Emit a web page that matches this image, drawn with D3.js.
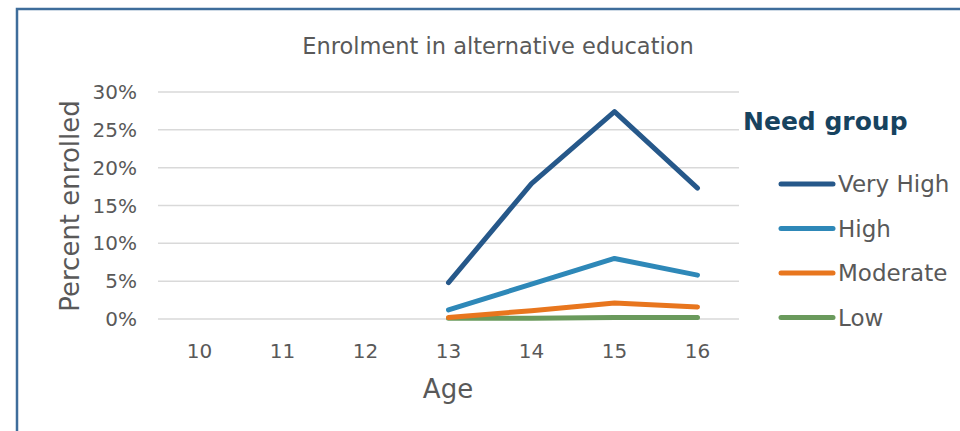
<!DOCTYPE html>
<html>
<head>
<meta charset="utf-8">
<script src="https://cdn.jsdelivr.net/npm/d3@7"></script>
<style>
  body { margin: 0; background: #fff; }
  svg text { font-family: "DejaVu Sans", sans-serif; fill: #595959; }
</style>
</head>
<body>
<svg id="chart" width="960" height="431"></svg>
<script>
"use strict";

// ==========================
// data
// ==========================
var ages = ["10", "11", "12", "13", "14", "15", "16"];
var groups = ["Very High", "High", "Moderate", "Low"];
var colors = ["#26588a", "#2e88b8", "#e8761e", "#6a9a5c"];
// percent enrolled, null = no value
var veryHigh = [null, null, null, 4.8, 17.9, 27.4, 17.3];
var high = [null, null, null, 1.2, 4.6, 8.0, 5.8];
var moderate = [null, null, null, 0.2, 1.1, 2.1, 1.6];
var low = [null, null, null, 0.1, 0.1, 0.2, 0.2];
var yTicks = [0, 5, 10, 15, 20, 25, 30];

var series = [veryHigh, high, moderate, low];

// ==========================
// chart
// ==========================
var svg = d3.select("#chart");

// frame
svg.append("path").attr("d", "M17,431V9H960")
  .attr("fill", "none").attr("stroke", "#3e6d9b").attr("stroke-width", 2.5);

var plotLeft = 158, plotRight = 739, plotTop = 92, plotBottom = 319;

var x = d3.scaleBand().domain(ages).range([plotLeft, plotRight]),
    y = d3.scaleLinear().domain([0, 30]).range([plotBottom, plotTop]);

// gridlines
svg.append("g").selectAll("line").data(yTicks).enter().append("line")
  .attr("x1", plotLeft).attr("x2", plotRight)
  .attr("y1", function (d) { return y(d); }).attr("y2", function (d) { return y(d); })
  .attr("stroke", "#d9d9d9").attr("stroke-width", 1.5);

// y ticks
svg.append("g").selectAll("text").data(yTicks).enter().append("text")
  .attr("x", 137).attr("y", function (d) { return y(d); })
  .attr("dy", "0.35em").attr("text-anchor", "end")
  .style("font-size", "20px")
  .text(function (d) { return d + "%"; });

// x ticks
svg.append("g").selectAll("text").data(ages).enter().append("text")
  .attr("x", function (d) { return x(d) + x.bandwidth() / 2; })
  .attr("y", 358).attr("text-anchor", "middle")
  .style("font-size", "20px")
  .text(function (d) { return d; });

// titles
svg.append("text").attr("x", 498).attr("y", 54).attr("text-anchor", "middle")
  .style("font-size", "22.5px").text("Enrolment in alternative education");
svg.append("text").attr("x", 448).attr("y", 398).attr("text-anchor", "middle")
  .style("font-size", "26px").text("Age");
svg.append("text").attr("transform", "translate(79,206) rotate(-90)")
  .attr("text-anchor", "middle").style("font-size", "26px").text("Percent enrolled");

// lines
var line = d3.line()
  .defined(function (d) { return d != null; })
  .x(function (d, i) { return x(ages[i]) + x.bandwidth() / 2; })
  .y(function (d) { return y(d); });

svg.append("g").selectAll("path").data(series.slice().reverse()).enter().append("path")
  .attr("d", line)
  .attr("fill", "none")
  .attr("stroke", function (d, i) { return colors[series.length - 1 - i]; })
  .attr("stroke-width", 5)
  .attr("stroke-linecap", "round")
  .attr("stroke-linejoin", "round");

// legend
svg.append("text").attr("x", 743).attr("y", 130)
  .style("font-size", "25px").style("font-weight", "bold").style("fill", "#17435f")
  .text("Need group");

var lg = svg.append("g").selectAll("g").data(groups).enter().append("g")
  .attr("transform", function (d, i) { return "translate(0," + (184 + i * 44.5) + ")"; });
lg.append("line").attr("x1", 781).attr("x2", 833)
  .attr("stroke", function (d, i) { return colors[i]; })
  .attr("stroke-width", 5).attr("stroke-linecap", "round");
lg.append("text").attr("x", 838).attr("dy", "0.35em")
  .style("font-size", "23px").text(function (d) { return d; });
</script>
</body>
</html>
